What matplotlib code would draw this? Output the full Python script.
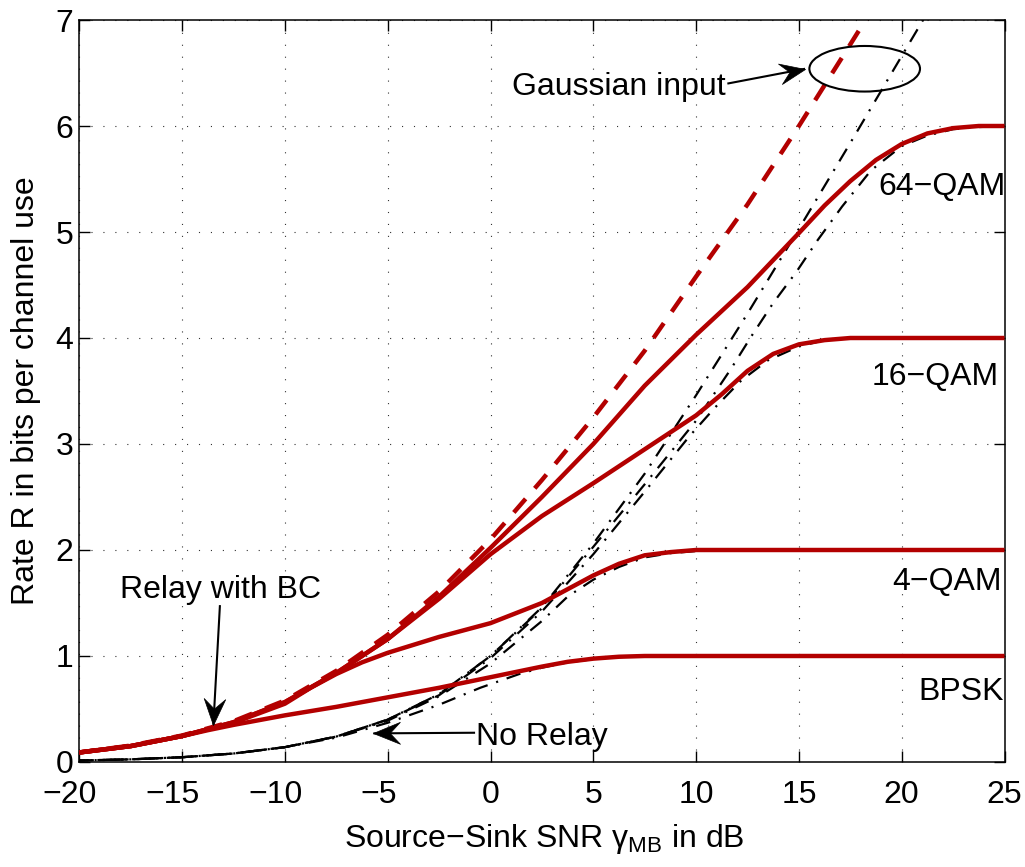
import numpy as np
import matplotlib
matplotlib.use("Agg")
import matplotlib.pyplot as plt
from matplotlib.patches import Ellipse
from matplotlib.path import Path
from matplotlib.transforms import blended_transform_factory, ScaledTranslation

plt.rcParams['font.family'] = ['Liberation Sans', 'DejaVu Sans']
plt.rcParams['lines.scale_dashes'] = False
plt.rcParams['axes.unicode_minus'] = True

# ---------------- data (rate in bits per channel use vs SNR in dB) ----------------
# two-way relay with broadcast phase (red)
gauss_relay_x = [-20, -17.5, -15, -12.5, -10, -7.5, -5, -2.5, 0, 2.5, 5, 7.5, 10, 12.5, 15, 17.5, 18.4]
gauss_relay_y = [0.09, 0.155, 0.25, 0.385, 0.58, 0.86, 1.2, 1.61, 2.1, 2.66, 3.25, 3.88, 4.58, 5.26, 6.0, 6.77, 7.05]

qam64_relay_x = [-20, -17.5, -15, -12.5, -10, -7.5, -5, -2.5, 0, 2.5, 5, 7.5, 10, 12.5, 15,
                 16.25, 17.5, 18.75, 20, 21.25, 22.5, 23.75, 25]
qam64_relay_y = [0.09, 0.15, 0.245, 0.375, 0.565, 0.84, 1.16, 1.56, 2.02, 2.5, 3.0, 3.55, 4.03, 4.48, 4.99,
                 5.25, 5.48, 5.68, 5.83, 5.93, 5.98, 6.0, 6.0]

qam16_relay_x = [-20, -17.5, -15, -12.5, -10, -7.5, -5, -2.5, 0, 2.5, 5, 7.5, 10, 11.25, 12.5,
                 13.75, 15, 16.25, 17.5, 20, 25]
qam16_relay_y = [0.09, 0.15, 0.245, 0.375, 0.565, 0.84, 1.16, 1.54, 1.96, 2.32, 2.63, 2.95, 3.27, 3.47, 3.69,
                 3.85, 3.94, 3.98, 4.0, 4.0, 4.0]

qam4_relay_x = [-20, -17.5, -15, -12.5, -10, -8.75, -7.5, -6.25, -5, -2.5, 0, 2.5, 5, 6.25, 7.5,
                8.75, 10, 12.5, 25]
qam4_relay_y = [0.09, 0.15, 0.245, 0.37, 0.55, 0.7, 0.83, 0.94, 1.03, 1.18, 1.31, 1.5, 1.76, 1.87, 1.95,
                1.98, 2.0, 2.0, 2.0]

bpsk_relay_x = [-20, -17.5, -15, -13.75, -12.5, -10, -7.5, -5, -2.5, 0, 2.5, 3.75, 5, 6.25, 7.5, 10, 25]
bpsk_relay_y = [0.09, 0.15, 0.245, 0.3, 0.35, 0.44, 0.52, 0.61, 0.70, 0.80, 0.9, 0.945, 0.975, 0.993, 1.0, 1.0, 1.0]

# direct transmission, no relay (black)
gauss_direct_x = [-20, -17.5, -15, -12.5, -10, -7.5, -5, -2.5, 0, 2.5, 5, 7.5, 10, 12.5, 15, 17.5, 20, 21.1]
gauss_direct_y = [0.014, 0.025, 0.045, 0.08, 0.14, 0.24, 0.40, 0.64, 1.0, 1.46, 2.06, 2.72, 3.46, 4.23,
                  5.03, 5.84, 6.66, 7.02]

qam64_direct_x = [-20, -17.5, -15, -12.5, -10, -7.5, -5, -2.5, 0, 2.5, 5, 7.5, 10, 11.7, 12.7, 13.75,
                  14.9, 15.9, 17.1, 18.5, 20, 21.25, 22.5, 23.75, 25]
qam64_direct_y = [0.014, 0.025, 0.045, 0.08, 0.14, 0.24, 0.40, 0.64, 1.0, 1.45, 2.03, 2.62, 3.22, 3.71, 4.02,
                  4.33, 4.63, 4.92, 5.24, 5.58, 5.81, 5.91, 5.97, 5.99, 6.0]

qam16_direct_x = [-20, -17.5, -15, -12.5, -10, -7.5, -5, -2.5, 0, 2.5, 5, 7.5, 9.66, 10.9, 12.2, 13.5,
                  15, 16.25, 17.5, 20, 25]
qam16_direct_y = [0.014, 0.025, 0.045, 0.08, 0.14, 0.24, 0.40, 0.63, 0.98, 1.42, 1.96, 2.55, 3.07, 3.34,
                  3.6, 3.79, 3.92, 3.98, 4.0, 4.0, 4.0]

qam4_direct_x = [-20, -17.5, -15, -12.5, -10, -7.5, -5, -2.5, 0, 1.25, 2.5, 3.75, 5, 6.25, 7.5, 8.75,
                 10, 12.5, 25]
qam4_direct_y = [0.014, 0.025, 0.045, 0.08, 0.14, 0.24, 0.39, 0.62, 0.93, 1.13, 1.33, 1.56, 1.72, 1.84,
                 1.93, 1.97, 1.99, 2.0, 2.0]

bpsk_direct_x = [-20, -17.5, -15, -12.5, -10, -7.5, -5, -2.5, -0.5, 1.4, 2.5, 3.75, 5, 6.25, 7.5, 10, 25]
bpsk_direct_y = [0.014, 0.025, 0.045, 0.08, 0.14, 0.23, 0.37, 0.54, 0.70, 0.83, 0.89, 0.94, 0.97, 0.99,
                 1.0, 1.0, 1.0]

x_ticks = [-20, -15, -10, -5, 0, 5, 10, 15, 20, 25]
y_ticks = [0, 1, 2, 3, 4, 5, 6, 7]

# ---------------- figure ----------------
FS = 23
RED = '#B30000'
fig = plt.figure(figsize=(10.25, 8.67), dpi=100)
ax = fig.add_axes([0.07737, 0.12111, 0.90263, 0.85582])
ax.set_xlim(-20, 25)
ax.set_ylim(0, 7)

direct_sets = [(gauss_direct_x, gauss_direct_y), (qam64_direct_x, qam64_direct_y),
               (qam16_direct_x, qam16_direct_y), (qam4_direct_x, qam4_direct_y),
               (bpsk_direct_x, bpsk_direct_y)]
offsets = [0, 6, 12, 3, 9]
for (xs, ys), off in zip(direct_sets, offsets):
    ax.plot(xs, ys, color='k', lw=1.6, linestyle=(off, (10.5, 6.5, 1.5, 6.5)),
            dash_capstyle='butt', zorder=2)

for xs, ys in [(qam64_relay_x, qam64_relay_y), (qam16_relay_x, qam16_relay_y),
               (qam4_relay_x, qam4_relay_y), (bpsk_relay_x, bpsk_relay_y)]:
    ax.plot(xs, ys, color=RED, lw=3.2, solid_capstyle='butt', solid_joinstyle='round', zorder=3)
ax.plot(gauss_relay_x, gauss_relay_y, color=RED, lw=3.2, linestyle=(0, (13, 10)),
        dash_capstyle='butt', zorder=4)

# grid, ticks, frame
ax.set_xticks(x_ticks)
ax.set_yticks(y_ticks)
ax.grid(True, color='#333333', lw=0.8, linestyle=(0, (0.8, 7.8)))
ax.set_axisbelow(True)
ax.tick_params(direction='in', length=8, width=1.0, top=True, right=True,
               labelsize=FS, pad=4.5)
ax.tick_params(axis='x', labelbottom=False)
for s in ax.spines.values():
    s.set_linewidth(1.1)

# x tick labels: digits centred on the tick, minus sign hanging to the left
xtrans = blended_transform_factory(ax.transData, ax.transAxes)
for v in x_ticks:
    digits = str(abs(v))
    half_w = len(digits) * 0.556 * FS / 2.0
    lab = ('\u2212' if v < 0 else '') + digits
    ax.text(v, 0, lab, fontsize=FS, ha='right', va='top',
            transform=xtrans + ScaledTranslation(half_w / 72.0, -13.0 / 72.0, fig.dpi_scale_trans))

fig.text(544 / 1025, 1 - 847 / 867, 'Source\u2212Sink SNR $\\mathregular{\\gamma_{MB}}$ in dB',
         fontsize=FS, ha='center', va='baseline')
fig.text(26 / 1025, 1 - 391 / 867, 'Rate R in bits per channel use', fontsize=FS,
         rotation=90, ha='center', va='center')

# curve labels
ax.text(1.05, 6.29, 'Gaussian input', fontsize=FS, ha='left', va='baseline')
ax.text(18.87, 5.35, '64\u2212QAM', fontsize=FS, ha='left', va='baseline')
ax.text(18.53, 3.557, '16\u2212QAM', fontsize=FS, ha='left', va='baseline')
ax.text(19.54, 1.623, '4\u2212QAM', fontsize=FS, ha='left', va='baseline')
ax.text(20.79, 0.585, 'BPSK', fontsize=FS, ha='left', va='baseline')
ax.text(-18.02, 1.547, 'Relay with BC', fontsize=FS, ha='left', va='baseline')
ax.text(-0.7, 0.16, 'No Relay', fontsize=FS, ha='left', va='baseline')

ax.add_patch(Ellipse((18.2, 6.54), 5.38, 0.43, fill=False, ec='k', lw=1.5, zorder=5))


def arrow(x0, y0, x1, y1):
    """Straight arrow with a notched head drawn in display space."""
    ax.plot([x0, x1], [y0, y1], color='k', lw=1.5, zorder=6, solid_capstyle='butt')
    p0 = ax.transData.transform((x0, y0))
    p1 = ax.transData.transform((x1, y1))
    ang = np.arctan2(p1[1] - p0[1], p1[0] - p0[0])
    L, W, N = 27.0, 22.0, 0.62
    verts = np.array([[0, 0], [-L, W / 2], [-N * L, 0], [-L, -W / 2], [0, 0]])
    c, s = np.cos(ang), np.sin(ang)
    rot = verts @ np.array([[c, s], [-s, c]])
    head = Path(rot, [Path.MOVETO, Path.LINETO, Path.LINETO, Path.LINETO, Path.CLOSEPOLY])
    ax.plot([x1], [y1], marker=head, markersize=2 * L * 0.72, color='k', mec='k', mew=0.5,
            zorder=7, clip_on=False)


arrow(11.52, 6.40, 15.3, 6.54)
arrow(-13.16, 1.48, -13.48, 0.35)
arrow(-0.75, 0.276, -5.7, 0.27)

fig.savefig('out.png', dpi=100)
